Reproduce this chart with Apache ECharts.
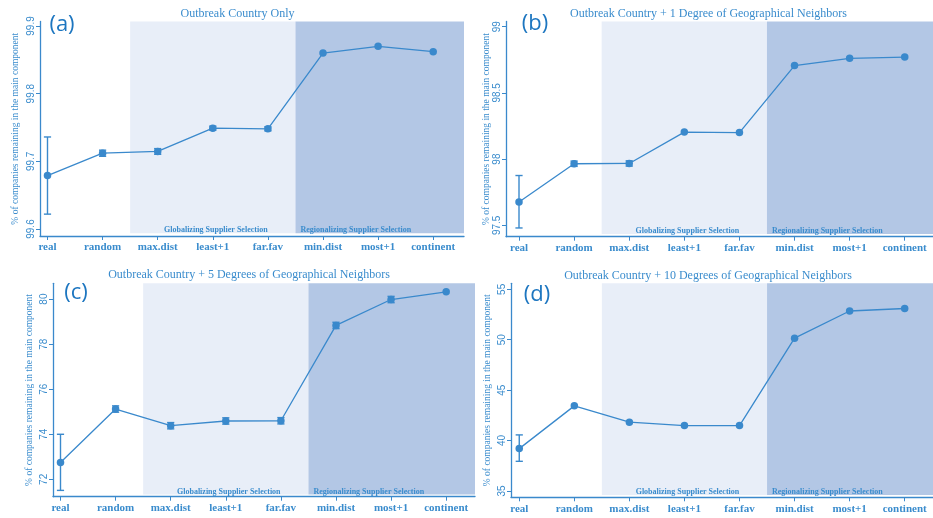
<!DOCTYPE html>
<html><head><meta charset="utf-8">
<script src="https://cdn.jsdelivr.net/npm/echarts/dist/echarts.min.js"></script>
<style>html,body{margin:0;padding:0;background:#fff}#c{width:933px;height:518px}</style>
</head><body><div id="c"></div>
<script>
const categories = ['real','random','max.dist','least+1','far.fav','min.dist','most+1','continent'];
const titles = ['Outbreak Country Only','Outbreak Country + 1 Degree of Geographical Neighbors','Outbreak Country + 5 Degrees of Geographical Neighbors','Outbreak Country + 10 Degrees of Geographical Neighbors'];
const panelLabels = ['(a)','(b)','(c)','(d)'];
const yAxisTitle = '% of companies remaining in the main component';
const regionLabels = ['Globalizing Supplier Selection','Regionalizing Supplier Selection'];

const valuesA = [99.679, 99.712, 99.7146, 99.749, 99.748, 99.860, 99.870, 99.862];
const lowA    = [99.622, 99.7075, 99.7104, 99.746, 99.745, null, null, null];
const highA   = [99.736, 99.7165, 99.7188, 99.752, 99.751, null, null, null];
const yTicksA = [99.6, 99.7, 99.8, 99.9];

const valuesB = [97.676, 97.965, 97.967, 98.204, 98.200, 98.706, 98.761, 98.770];
const lowB    = [97.48, 97.945, 97.947, null, null, null, null, null];
const highB   = [97.876, 97.985, 97.987, null, null, null, null, null];
const yTicksB = [97.5, 98, 98.5, 99];

const valuesC = [72.75, 75.12, 74.38, 74.59, 74.60, 78.83, 79.98, 80.32];
const lowC    = [71.51, 74.98, 74.24, 74.45, 74.46, 78.69, 79.84, null];
const highC   = [74.0, 75.26, 74.52, 74.73, 74.74, 78.97, 80.12, null];
const yTicksC = [72, 74, 76, 78, 80];

const valuesD = [39.2, 43.44, 41.82, 41.49, 41.49, 50.16, 52.85, 53.1];
const lowD    = [37.94, null, null, null, null, null, null, null];
const highD   = [40.56, null, null, null, null, null, null, null];
const yTicksD = [35, 40, 45, 50, 55];

const regionBounds = [2.5, 5.5];

const seriesData = [
  {v: valuesA, lo: lowA, hi: highA, ticks: yTicksA},
  {v: valuesB, lo: lowB, hi: highB, ticks: yTicksB},
  {v: valuesC, lo: lowC, hi: highC, ticks: yTicksC},
  {v: valuesD, lo: lowD, hi: highD, ticks: yTicksD}
];

// layout (pixels & axis extents)
const layout = [
  {left:40,  top:21.5, width:424, height:214.5, xmin:0.864, xmax:8.559, ymin:99.5897, ymax:99.9066, shadeBot:99.5937, nameGap:20, title:[237.5,14], lab:[62,25]},
  {left:506, top:21.5, width:427, height:215.2, xmin:0.764, xmax:8.513, ymin:97.414, ymax:99.039, shadeBot:97.434, nameGap:14, title:[708.5,14], lab:[535,24]},
  {left:53,  top:283.3,width:422, height:213.4, xmin:0.864, xmax:8.523, ymin:71.23, ymax:80.70, shadeBot:71.33, nameGap:19, title:[249,275], lab:[76,293]},
  {left:511, top:283.3,width:422, height:214,   xmin:0.85,  xmax:8.514, ymin:34.37, ymax:55.6, shadeBot:34.6, nameGap:19, title:[708,275.5], lab:[537,295]}
];

const BLUE = '#3a89cc';
const TEXT = '#3a8ccd';
const LIGHT = '#e8eef8';
const DARK = '#b3c7e5';
const SERIF = '"Liberation Serif","DejaVu Serif",serif';
const SANS = '"Liberation Sans","DejaVu Sans",sans-serif';

const grid = [], xAxis = [], yAxis = [], series = [], graphic = [];
layout.forEach((L, i) => {
  const d = seriesData[i];
  grid.push({left:L.left, top:L.top, width:L.width, height:L.height, containLabel:false});
  xAxis.push({
    type:'value', gridIndex:i, min:L.xmin, max:L.xmax,
    splitLine:{show:false},
    axisLine:{show:true, onZero:false, lineStyle:{color:BLUE, width:1.3}},
    axisTick:{show:true, customValues:categories.map((c,k)=>k+1), length:4, lineStyle:{color:BLUE, width:1}},
    axisLabel:{show:true, customValues:categories.map((c,k)=>k+1), formatter:(val)=>categories[Math.round(val)-1] || '', margin:6,
      color:TEXT, fontFamily:SERIF, fontSize:11, fontWeight:'bold'}
  });
  yAxis.push({
    type:'value', gridIndex:i, min:L.ymin, max:L.ymax,
    splitLine:{show:false},
    axisLine:{show:true, onZero:false, lineStyle:{color:BLUE, width:1.3}},
    axisTick:{show:true, customValues:d.ticks, length:4, lineStyle:{color:BLUE, width:1}},
    axisLabel:{show:true, customValues:d.ticks, rotate:90, margin:4, color:TEXT, fontFamily:SANS, fontSize:10},
    name:yAxisTitle, nameLocation:'middle', nameRotate:90, nameGap:L.nameGap,
    nameTextStyle:{color:TEXT, fontFamily:SERIF, fontSize:9.5}
  });
  series.push({
    type:'line', xAxisIndex:i, yAxisIndex:i,
    data:d.v.map((v,k)=>[k+1, v]),
    symbol:'circle', symbolSize:7.5, showSymbol:true,
    lineStyle:{color:BLUE, width:1.3}, itemStyle:{color:BLUE},
    z:5, silent:true,
    markArea:{
      silent:true,
      data:[
        [{xAxis:regionBounds[0], yAxis:L.shadeBot, itemStyle:{color:LIGHT},
          label:{show:true, position:'insideBottom', distance:-1, offset:[3,0], formatter:regionLabels[0], color:TEXT, fontFamily:SERIF, fontSize:8, fontWeight:'bold'}},
         {xAxis:regionBounds[1], yAxis:L.ymax}],
        [{xAxis:regionBounds[1], yAxis:L.shadeBot, itemStyle:{color:DARK},
          label:{show:true, position:'insideBottomLeft', distance:-1, offset:[6,0], formatter:regionLabels[1], color:TEXT, fontFamily:SERIF, fontSize:8, fontWeight:'bold'}},
         {xAxis:L.xmax, yAxis:L.ymax}]
      ]
    }
  });
  const eb = [];
  d.lo.forEach((lo,k)=>{ if (lo !== null && d.hi[k] !== null) eb.push([k+1, lo, d.hi[k]]); });
  series.push({
    type:'custom', xAxisIndex:i, yAxisIndex:i, data:eb, z:6, silent:true,
    renderItem:(params, api)=>{
      const x = api.value(0);
      const p1 = api.coord([x, api.value(1)]);
      const p2 = api.coord([x, api.value(2)]);
      const hw = 3.6;
      const st = {stroke:BLUE, lineWidth:1.4};
      return {type:'group', children:[
        {type:'line', shape:{x1:p1[0], y1:p1[1], x2:p2[0], y2:p2[1]}, style:st},
        {type:'line', shape:{x1:p1[0]-hw, y1:p1[1], x2:p1[0]+hw, y2:p1[1]}, style:st},
        {type:'line', shape:{x1:p2[0]-hw, y1:p2[1], x2:p2[0]+hw, y2:p2[1]}, style:st}
      ]};
    }
  });
  graphic.push({type:'text', x:L.title[0], y:L.title[1], style:{text:titles[i], fill:TEXT, font:'12px '+SERIF, textAlign:'center', textVerticalAlign:'middle'}, z:10});
  graphic.push({type:'text', x:L.lab[0], y:L.lab[1], style:{text:panelLabels[i], fill:'#1d76c0', font:'22px "Open Sans",sans-serif', textAlign:'center', textVerticalAlign:'middle'}, z:10});
});

const chart = echarts.init(document.getElementById('c'), null, {renderer:'canvas'});
chart.setOption({animation:false, backgroundColor:'#fff', grid, xAxis, yAxis, series, graphic});
</script></body></html>
